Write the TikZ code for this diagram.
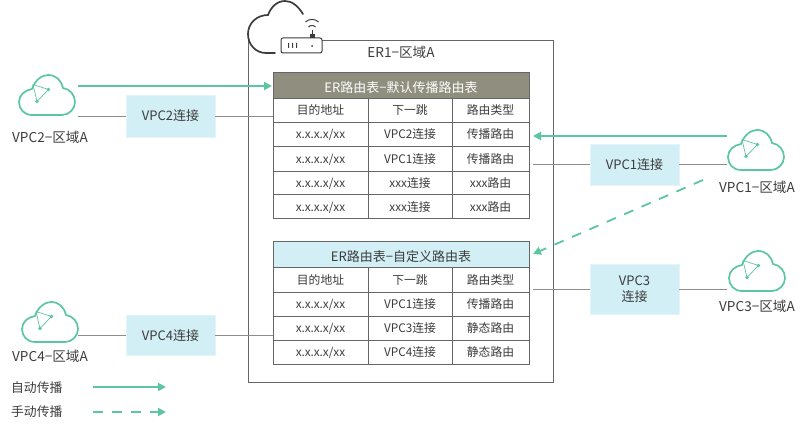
\documentclass[tikz,border=0pt]{standalone}
\usepackage{fontspec}
\setmainfont{Noto Sans CJK SC}
\usetikzlibrary{arrows.meta}
\definecolor{gr}{HTML}{5CC6A0}
\definecolor{ln}{HTML}{8C8C8C}
\definecolor{tx}{HTML}{3C3C3C}
\definecolor{bx}{HTML}{D2EFF5}
\definecolor{hd}{HTML}{8F8E7F}
\definecolor{bd}{HTML}{666666}
\tikzset{
 cell/.style={draw=bd,line width=.8pt,fill=white,inner sep=0pt,text=tx,text height=9pt,text depth=0pt,font=\fontsize{11.8}{13}\selectfont,anchor=center},
 conn/.style={fill=bx,draw=bx!60!white,line width=.6pt,inner sep=0pt,text=tx,align=center,font=\fontsize{13}{16}\selectfont},
 one line/.style={text height=10pt,text depth=0pt},
 lbl/.style={text=tx,inner sep=0pt,font=\fontsize{13.6}{15}\selectfont},
 auto arrow/.style={draw=gr,line width=1.8pt,-{Triangle[length=8pt,width=8pt]}},
 manual arrow/.style={auto arrow,dash pattern=on 10pt off 9pt},
 gray line/.style={draw=ln,line width=.9pt},
 vpc/.pic={
  \draw[gr,line width=1.7pt,fill=white] (-15,20) .. controls (-23,20) and (-28,14) .. (-28,7) .. controls (-28,0) and (-22,-5) .. (-15,-6) .. controls (-12,-15) and (-5,-20) .. (1,-20) .. controls (9,-20) and (14,-15) .. (16,-7) .. controls (23,-6) and (28,0) .. (28,7) .. controls (28,14) and (22,20) .. (15,20) -- cycle;
  \draw[gr,line width=.7pt] (-14,-10.5) -- (1.5,-5.5) -- (-10,6.5) -- cycle;
  \fill[gr] (1.5,-5.5) circle (1.8) (-10,6.5) circle (1.8);
 }
}
\newcommand{\rowcells}[6]{%
 \node[cell,minimum width=95pt,minimum height=#2 pt] (#1a) at (320.5,#3) {#4};
 \node[cell,minimum width=84pt,minimum height=#2 pt] (#1b) at (410,#3) {#5};
 \node[cell,minimum width=77pt,minimum height=#2 pt] (#1c) at (490.5,#3) {#6};
}
\begin{document}
\begin{tikzpicture}[x=1pt,y=-1pt]
\useasboundingbox (0,0) rectangle (807,428);
% ER frame
\draw[bd,line width=.8pt] (322,40) -- (553,40) -- (553,382) -- (248,382) -- (248,40);
% ER cloud and router
\draw[tx,line width=1.7pt,line cap=round] (303,14) .. controls (298,6) and (292,1) .. (285,1) .. controls (277,1) and (271,7) .. (268,15) .. controls (257,15) and (248,23) .. (248,34) .. controls (248,45) and (256,53) .. (266,53) -- (275,53);
\draw[tx,line width=1pt,rounded corners=2pt] (281,38) rectangle (322,53);
\draw[tx,line width=1pt] (312,38) -- (312,30);
\fill[tx] (309.5,38) rectangle (314.5,34);
\draw[tx,line width=1pt] (308.5,27) .. controls (310,25) and (314,25) .. (315.5,27);
\draw[tx,line width=1pt] (305.5,22) .. controls (309,18.5) and (315,18.5) .. (318.5,22);
\fill[tx] (288,43) rectangle (289.2,48) (292,43) rectangle (293.2,48) (296,43) rectangle (297.2,48);
\fill[tx] (312,46) circle (1);
\node[lbl] (er) at (401,52) {ER1−区域A};
% table 1
\node[cell,fill=hd,text=white,text height=16pt,minimum width=256pt,minimum height=26pt] (tA) at (401,85) {\fontsize{13}{14}\selectfont ER路由表−默认传播路由表};
\rowcells{ah}{24}{110}{目的地址}{下一跳}{路由类型}
\rowcells{ar}{24.5}{134.5}{x.x.x.x/xx}{VPC2连接}{传播路由}
\rowcells{as}{24.5}{159}{x.x.x.x/xx}{VPC1连接}{传播路由}
\rowcells{at}{24}{183}{x.x.x.x/xx}{xxx连接}{xxx路由}
\rowcells{au}{23.5}{206.5}{x.x.x.x/xx}{xxx连接}{xxx路由}
% table 2
\node[cell,fill=bx,text height=14pt,minimum width=256pt,minimum height=26pt] (tB) at (401,254) {\fontsize{13}{14}\selectfont ER路由表−自定义路由表};
\rowcells{bh}{25}{279.5}{目的地址}{下一跳}{路由类型}
\rowcells{br}{24}{304}{x.x.x.x/xx}{VPC1连接}{传播路由}
\rowcells{bs}{24}{328}{x.x.x.x/xx}{VPC3连接}{静态路由}
\rowcells{bt}{24}{352}{x.x.x.x/xx}{VPC4连接}{静态路由}
% clouds
\pic at (47,95) {vpc};
\pic at (756,150) {vpc};
\pic at (757,271) {vpc};
\pic at (50,322) {vpc};
\node[lbl] (l2) at (50,137) {VPC2−区域A};
\node[lbl] (l1) at (757,187) {VPC1−区域A};
\node[lbl] (l3) at (757,306) {VPC3−区域A};
\node[lbl] (l4) at (50,356) {VPC4−区域A};
% connection boxes
\node[conn,one line,minimum width=89pt,minimum height=42pt] (c2) at (170.5,116) {VPC2连接};
\node[conn,one line,minimum width=89pt,minimum height=41pt] (c1) at (634.5,164.5) {VPC1连接};
\node[conn,minimum width=89pt,minimum height=50pt] (c3) at (634.5,289) {VPC3\\连接};
\node[conn,one line,minimum width=89pt,minimum height=40pt] (c4) at (170.5,335) {VPC4连接};
% free ends
\coordinate (a2) at (78,86);
\coordinate (a2e) at (272,86);
\coordinate (a1) at (727,136);
\coordinate (a1e) at (533,136);
\coordinate (g2) at (78,116);
\coordinate (g1) at (727,164.5);
\coordinate (g3) at (727,289);
\coordinate (g4) at (78,335);
\coordinate (d1) at (703,180);
\coordinate (d1e) at (533,254);
% connectors
\draw[auto arrow] (a2) -- (a2e);
\draw[auto arrow] (a1) -- (a1e);
\draw[manual arrow] (d1) -- (d1e);
\draw[gray line] (g2) -- (c2.west);
\draw[gray line] (c2.east) -- (c2.east -| tA.west);
\draw[gray line] (g1) -- (c1.east);
\draw[gray line] (c1.west) -- ++(-57,0);
\draw[gray line] (g3) -- (c3.east);
\draw[gray line] (c3.west) -- ++(-57,0);
\draw[gray line] (g4) -- (c4.west);
\draw[gray line] (c4.east) -- (c4.east -| tB.west);
% legend
\node[lbl,anchor=west,font=\fontsize{12.8}{15}\selectfont] (la) at (11,388) {自动传播};
\node[lbl,anchor=west,font=\fontsize{12.8}{15}\selectfont] (lm) at (11,412) {手动传播};
\coordinate (la1) at (93,387);
\coordinate (la2) at (166,387);
\coordinate (lm1) at (93,412);
\coordinate (lm2) at (166,412);
\draw[auto arrow] (la1) -- (la2);
\draw[manual arrow] (lm1) -- (lm2);
\end{tikzpicture}
\end{document}
